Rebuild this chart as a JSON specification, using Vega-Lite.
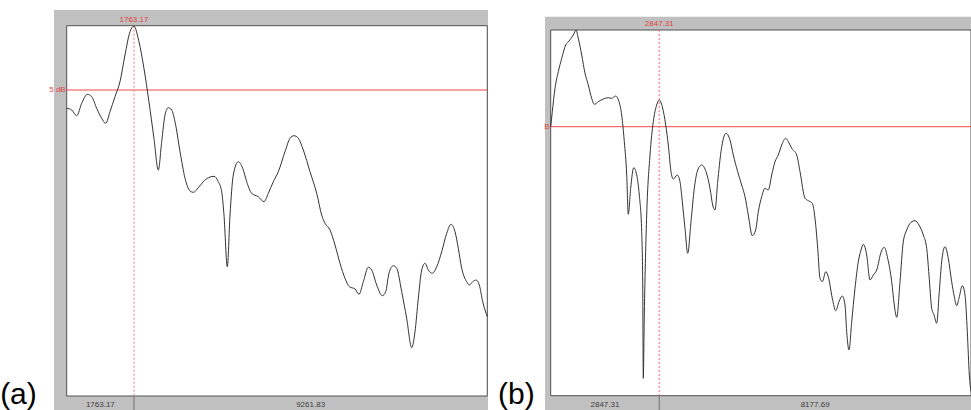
{
  "$schema": "https://vega.github.io/schema/vega-lite/v6.json",
  "padding": 0,
  "spacing": 0,
  "bounds": "flush",
  "background": "white",
  "config": {"view": {"stroke": null}, "font": "Liberation Sans"},
  "resolve": {"scale": {"x": "independent", "y": "independent"}},
  "datasets": {
    "a": [
      {"f":0,"db":-16.52},{"f":131,"db":-16.86},{"f":262,"db":-18.0},{"f":393,"db":-15.52},{"f":540,"db":-13.72},{"f":655,"db":-14.2},{"f":786,"db":-16.52},{"f":917,"db":-18.52},{"f":1022,"db":-19.52},{"f":1135,"db":-17.2},{"f":1266,"db":-14.2},{"f":1397,"db":-11.2},{"f":1528,"db":-5.86},{"f":1659,"db":-1.2},{"f":1763.17,"db":-0.1},{"f":1894,"db":-3.2},{"f":2025,"db":-8.52},{"f":2156,"db":-15.2},{"f":2287,"db":-22.52},{"f":2401,"db":-28.86},{"f":2490,"db":-23.2},{"f":2577,"db":-17.86},{"f":2663,"db":-16.4},{"f":2752,"db":-16.86},{"f":2839,"db":-19.2},{"f":2971,"db":-25.2},{"f":3102,"db":-30.52},{"f":3233,"db":-33.06},{"f":3319,"db":-33.32},{"f":3450,"db":-32.4},{"f":3581,"db":-31.2},{"f":3712,"db":-30.4},{"f":3861,"db":-30.12},{"f":3974,"db":-31.2},{"f":4063,"db":-33.2},{"f":4123,"db":-37.86},{"f":4210,"db":-48.2},{"f":4281,"db":-37.86},{"f":4367,"db":-29.86},{"f":4498,"db":-27.2},{"f":4614,"db":-28.52},{"f":4718,"db":-31.2},{"f":4849,"db":-33.52},{"f":5022,"db":-34.2},{"f":5172,"db":-35.2},{"f":5285,"db":-33.52},{"f":5416,"db":-31.2},{"f":5547,"db":-29.2},{"f":5722,"db":-25.2},{"f":5853,"db":-22.52},{"f":5958,"db":-22.0},{"f":6071,"db":-22.52},{"f":6202,"db":-24.86},{"f":6378,"db":-29.2},{"f":6553,"db":-33.52},{"f":6684,"db":-37.86},{"f":6771,"db":-39.52},{"f":6902,"db":-40.86},{"f":7033,"db":-43.86},{"f":7164,"db":-47.52},{"f":7295,"db":-50.52},{"f":7408,"db":-52.2},{"f":7557,"db":-52.66},{"f":7662,"db":-53.72},{"f":7775,"db":-51.2},{"f":7906,"db":-48.32},{"f":7995,"db":-48.86},{"f":8126,"db":-51.86},{"f":8273,"db":-54.0},{"f":8362,"db":-53.2},{"f":8448,"db":-49.52},{"f":8561,"db":-48.0},{"f":8650,"db":-48.52},{"f":8781,"db":-53.2},{"f":8912,"db":-58.52},{"f":9043,"db":-64.4},{"f":9130,"db":-61.2},{"f":9217,"db":-54.52},{"f":9306,"db":-48.86},{"f":9392,"db":-47.52},{"f":9479,"db":-48.86},{"f":9584,"db":-49.52},{"f":9699,"db":-48.2},{"f":9830,"db":-45.2},{"f":9961,"db":-41.52},{"f":10074,"db":-39.72},{"f":10179,"db":-41.2},{"f":10265,"db":-44.52},{"f":10354,"db":-48.52},{"f":10485,"db":-51.2},{"f":10553,"db":-51.86},{"f":10642,"db":-51.2},{"f":10729,"db":-50.86},{"f":10815,"db":-51.86},{"f":10905,"db":-55.2},{"f":11025,"db":-58.2}
    ],
    "b": [
      {"f":0,"db":-19.34},{"f":42,"db":-16.34},{"f":113,"db":-11.66},{"f":199,"db":-8.34},{"f":289,"db":-5.66},{"f":393,"db":-3.0},{"f":480,"db":-2.2},{"f":593,"db":-1.0},{"f":664,"db":0},{"f":724,"db":-1.66},{"f":813,"db":-5.0},{"f":900,"db":-8.66},{"f":986,"db":-11.0},{"f":1075,"db":-13.66},{"f":1144,"db":-14.86},{"f":1249,"db":-14.34},{"f":1380,"db":-13.8},{"f":1511,"db":-13.54},{"f":1600,"db":-13.66},{"f":1705,"db":-13.2},{"f":1792,"db":-14.34},{"f":1862,"db":-17.0},{"f":1931,"db":-22.34},{"f":1994,"db":-29.0},{"f":2035,"db":-36.86},{"f":2098,"db":-31.66},{"f":2177,"db":-27.54},{"f":2256,"db":-29.0},{"f":2324,"db":-33.0},{"f":2387,"db":-40.34},{"f":2413,"db":-50.34},{"f":2429,"db":-69.66},{"f":2455,"db":-57.0},{"f":2518,"db":-37.0},{"f":2605,"db":-25.0},{"f":2691,"db":-18.34},{"f":2780,"db":-15.0},{"f":2847.31,"db":-14.0},{"f":2927,"db":-15.34},{"f":3017,"db":-19.0},{"f":3085,"db":-23.0},{"f":3156,"db":-28.34},{"f":3216,"db":-29.8},{"f":3321,"db":-29.0},{"f":3392,"db":-30.34},{"f":3452,"db":-34.34},{"f":3523,"db":-39.66},{"f":3594,"db":-44.66},{"f":3680,"db":-38.34},{"f":3767,"db":-31.66},{"f":3856,"db":-28.0},{"f":3961,"db":-27.0},{"f":4074,"db":-28.34},{"f":4179,"db":-31.66},{"f":4249,"db":-35.0},{"f":4310,"db":-36.0},{"f":4381,"db":-30.34},{"f":4467,"db":-24.34},{"f":4598,"db":-20.66},{"f":4703,"db":-22.0},{"f":4790,"db":-25.0},{"f":4905,"db":-28.34},{"f":5010,"db":-31.0},{"f":5097,"db":-33.34},{"f":5183,"db":-37.0},{"f":5288,"db":-41.14},{"f":5377,"db":-40.0},{"f":5446,"db":-36.34},{"f":5535,"db":-33.34},{"f":5621,"db":-31.66},{"f":5708,"db":-32.0},{"f":5797,"db":-29.0},{"f":5884,"db":-26.34},{"f":5970,"db":-25.0},{"f":6059,"db":-23.0},{"f":6164,"db":-21.66},{"f":6233,"db":-22.34},{"f":6322,"db":-23.66},{"f":6453,"db":-25.0},{"f":6540,"db":-28.34},{"f":6671,"db":-33.66},{"f":6757,"db":-34.14},{"f":6862,"db":-34.66},{"f":6933,"db":-37.66},{"f":7004,"db":-43.66},{"f":7064,"db":-49.66},{"f":7125,"db":-50.34},{"f":7214,"db":-48.34},{"f":7282,"db":-49.34},{"f":7387,"db":-53.66},{"f":7476,"db":-56.14},{"f":7562,"db":-54.34},{"f":7649,"db":-53.2},{"f":7720,"db":-55.0},{"f":7764,"db":-60.34},{"f":7825,"db":-64.0},{"f":7896,"db":-58.34},{"f":7982,"db":-51.66},{"f":8069,"db":-46.34},{"f":8140,"db":-44.0},{"f":8200,"db":-42.86},{"f":8289,"db":-45.0},{"f":8376,"db":-50.0},{"f":8463,"db":-49.0},{"f":8552,"db":-48.0},{"f":8664,"db":-44.46},{"f":8751,"db":-43.46},{"f":8840,"db":-45.66},{"f":8945,"db":-50.34},{"f":9013,"db":-55.0},{"f":9076,"db":-57.46},{"f":9163,"db":-50.34},{"f":9249,"db":-42.34},{"f":9338,"db":-40.0},{"f":9451,"db":-38.46},{"f":9556,"db":-38.14},{"f":9661,"db":-39.0},{"f":9774,"db":-41.0},{"f":9863,"db":-43.66},{"f":9923,"db":-49.0},{"f":9994,"db":-55.66},{"f":10055,"db":-57.0},{"f":10125,"db":-58.66},{"f":10193,"db":-52.34},{"f":10256,"db":-46.34},{"f":10343,"db":-43.34},{"f":10429,"db":-45.66},{"f":10518,"db":-50.34},{"f":10587,"db":-53.34},{"f":10650,"db":-55.14},{"f":10710,"db":-53.66},{"f":10797,"db":-51.14},{"f":10868,"db":-53.0},{"f":10928,"db":-60.34},{"f":10981,"db":-69.0},{"f":11025,"db":-72.34}
    ]
  },
  "hconcat": [
    {
      "width": 488,
      "height": 410,
      "layer": [
        {
          "data": {"values": [{}]},
          "mark": {"type": "rect", "fill": "#c0c0c0"},
          "encoding": {
            "x": {"datum": -333, "type": "quantitative", "scale": {"domain": [-1748.4, 11043.5], "nice": false, "zero": false}, "axis": null},
            "x2": {"datum": 11043.5},
            "y": {"datum": 3.14, "type": "quantitative", "scale": {"domain": [-76.86, 5.14], "nice": false, "zero": false}, "axis": null},
            "y2": {"datum": -76.86}
          }
        },
        {
          "data": {"values": [{}]},
          "mark": {"type": "rect", "fill": "white", "stroke": "#505050", "strokeWidth": 1},
          "encoding": {
            "x": {"datum": 0, "type": "quantitative", "axis": null},
            "x2": {"datum": 11025},
            "y": {"datum": 0, "type": "quantitative", "axis": null},
            "y2": {"datum": -74.06}
          }
        },
        {
          "data": {"values": [{}]},
          "mark": {"type": "rule", "color": "#f04848", "strokeWidth": 1},
          "encoding": {
            "x": {"datum": 0, "type": "quantitative", "axis": null},
            "x2": {"datum": 11025},
            "y": {"datum": -12.86, "type": "quantitative", "axis": null}
          }
        },
        {
          "data": {"values": [{}]},
          "mark": {"type": "rule", "color": "#ff7070", "strokeWidth": 1, "strokeDash": [2, 2]},
          "encoding": {
            "x": {"datum": 1763.17, "type": "quantitative", "axis": null},
            "y": {"datum": 0, "type": "quantitative", "axis": null},
            "y2": {"datum": -74.06}
          }
        },
        {
          "data": {"values": [{}]},
          "mark": {"type": "rule", "color": "#707070", "strokeWidth": 1},
          "encoding": {
            "x": {"datum": 1763.17, "type": "quantitative", "axis": null},
            "y": {"datum": -74.06, "type": "quantitative", "axis": null},
            "y2": {"datum": -76.86}
          }
        },
        {
          "data": {"name": "a"},
          "mark": {"type": "line", "color": "#333333", "strokeWidth": 1, "interpolate": "monotone"},
          "encoding": {
            "x": {"field": "f", "type": "quantitative", "axis": null},
            "y": {"field": "db", "type": "quantitative", "axis": null}
          }
        },
        {
          "data": {"values": [{}]},
          "mark": {"type": "text", "text": "1763.17", "fontSize": 8, "color": "#e04040", "align": "center", "baseline": "middle"},
          "encoding": {
            "x": {"datum": 1763.17, "type": "quantitative", "axis": null},
            "y": {"datum": 1.14, "type": "quantitative", "axis": null}
          }
        },
        {
          "data": {"values": [{}]},
          "mark": {"type": "text", "text": "5 dB", "fontSize": 8, "color": "#e04040", "align": "right", "baseline": "middle", "dx": -1},
          "encoding": {
            "x": {"datum": 0, "type": "quantitative", "axis": null},
            "y": {"datum": -12.86, "type": "quantitative", "axis": null}
          }
        },
        {
          "data": {"values": [{}]},
          "mark": {"type": "text", "text": "1763.17", "fontSize": 8, "color": "#404040", "align": "center", "baseline": "top"},
          "encoding": {
            "x": {"datum": 881.6, "type": "quantitative", "axis": null},
            "y": {"datum": -75.06, "type": "quantitative", "axis": null}
          }
        },
        {
          "data": {"values": [{}]},
          "mark": {"type": "text", "text": "9261.83", "fontSize": 8, "color": "#404040", "align": "center", "baseline": "top"},
          "encoding": {
            "x": {"datum": 6394, "type": "quantitative", "axis": null},
            "y": {"datum": -75.06, "type": "quantitative", "axis": null}
          }
        },
        {
          "data": {"values": [{}]},
          "mark": {"type": "text", "text": "(a)", "fontSize": 30, "color": "#000000", "align": "left", "baseline": "alphabetic"},
          "encoding": {
            "x": {"datum": -1745, "type": "quantitative", "axis": null},
            "y": {"datum": -75.66, "type": "quantitative", "axis": null}
          }
        }
      ]
    },
    {
      "width": 483,
      "height": 410,
      "layer": [
        {
          "data": {"values": [{}]},
          "mark": {"type": "rect", "fill": "#c0c0c0"},
          "encoding": {
            "x": {"datum": -149.5, "type": "quantitative", "scale": {"domain": [-1644.7, 11025], "nice": false, "zero": false}, "axis": null},
            "x2": {"datum": 11025},
            "y": {"datum": 2.66, "type": "quantitative", "scale": {"domain": [-76, 6], "nice": false, "zero": false}, "axis": null},
            "y2": {"datum": -76}
          }
        },
        {
          "data": {"values": [{}]},
          "mark": {"type": "rect", "fill": "white", "stroke": "#505050", "strokeWidth": 1},
          "encoding": {
            "x": {"datum": 0, "type": "quantitative", "axis": null},
            "x2": {"datum": 11025},
            "y": {"datum": 0, "type": "quantitative", "axis": null},
            "y2": {"datum": -73.14}
          }
        },
        {
          "data": {"values": [{}]},
          "mark": {"type": "rule", "color": "#f04848", "strokeWidth": 1},
          "encoding": {
            "x": {"datum": 0, "type": "quantitative", "axis": null},
            "x2": {"datum": 11025},
            "y": {"datum": -19.34, "type": "quantitative", "axis": null}
          }
        },
        {
          "data": {"values": [{}]},
          "mark": {"type": "rule", "color": "#ff7070", "strokeWidth": 1, "strokeDash": [2, 2]},
          "encoding": {
            "x": {"datum": 2847.31, "type": "quantitative", "axis": null},
            "y": {"datum": 0, "type": "quantitative", "axis": null},
            "y2": {"datum": -73.14}
          }
        },
        {
          "data": {"values": [{}]},
          "mark": {"type": "rule", "color": "#707070", "strokeWidth": 1},
          "encoding": {
            "x": {"datum": 2847.31, "type": "quantitative", "axis": null},
            "y": {"datum": -73.14, "type": "quantitative", "axis": null},
            "y2": {"datum": -76}
          }
        },
        {
          "data": {"name": "b"},
          "mark": {"type": "line", "color": "#333333", "strokeWidth": 1, "interpolate": "monotone"},
          "encoding": {
            "x": {"field": "f", "type": "quantitative", "axis": null},
            "y": {"field": "db", "type": "quantitative", "axis": null}
          }
        },
        {
          "data": {"values": [{}]},
          "mark": {"type": "text", "text": "2847.31", "fontSize": 8, "color": "#e04040", "align": "center", "baseline": "middle"},
          "encoding": {
            "x": {"datum": 2847.31, "type": "quantitative", "axis": null},
            "y": {"datum": 1.14, "type": "quantitative", "axis": null}
          }
        },
        {
          "data": {"values": [{}]},
          "mark": {"type": "text", "text": "B", "fontSize": 8, "color": "#e04040", "align": "right", "baseline": "middle", "dx": -1},
          "encoding": {
            "x": {"datum": 0, "type": "quantitative", "axis": null},
            "y": {"datum": -19.34, "type": "quantitative", "axis": null}
          }
        },
        {
          "data": {"values": [{}]},
          "mark": {"type": "text", "text": "2847.31", "fontSize": 8, "color": "#404040", "align": "center", "baseline": "top"},
          "encoding": {
            "x": {"datum": 1423.7, "type": "quantitative", "axis": null},
            "y": {"datum": -74.2, "type": "quantitative", "axis": null}
          }
        },
        {
          "data": {"values": [{}]},
          "mark": {"type": "text", "text": "8177.69", "fontSize": 8, "color": "#404040", "align": "center", "baseline": "top"},
          "encoding": {
            "x": {"datum": 6936.2, "type": "quantitative", "axis": null},
            "y": {"datum": -74.2, "type": "quantitative", "axis": null}
          }
        },
        {
          "data": {"values": [{}]},
          "mark": {"type": "text", "text": "(b)", "fontSize": 30, "color": "#000000", "align": "left", "baseline": "alphabetic"},
          "encoding": {
            "x": {"datum": -1382.4, "type": "quantitative", "axis": null},
            "y": {"datum": -74.8, "type": "quantitative", "axis": null}
          }
        }
      ]
    }
  ]
}
